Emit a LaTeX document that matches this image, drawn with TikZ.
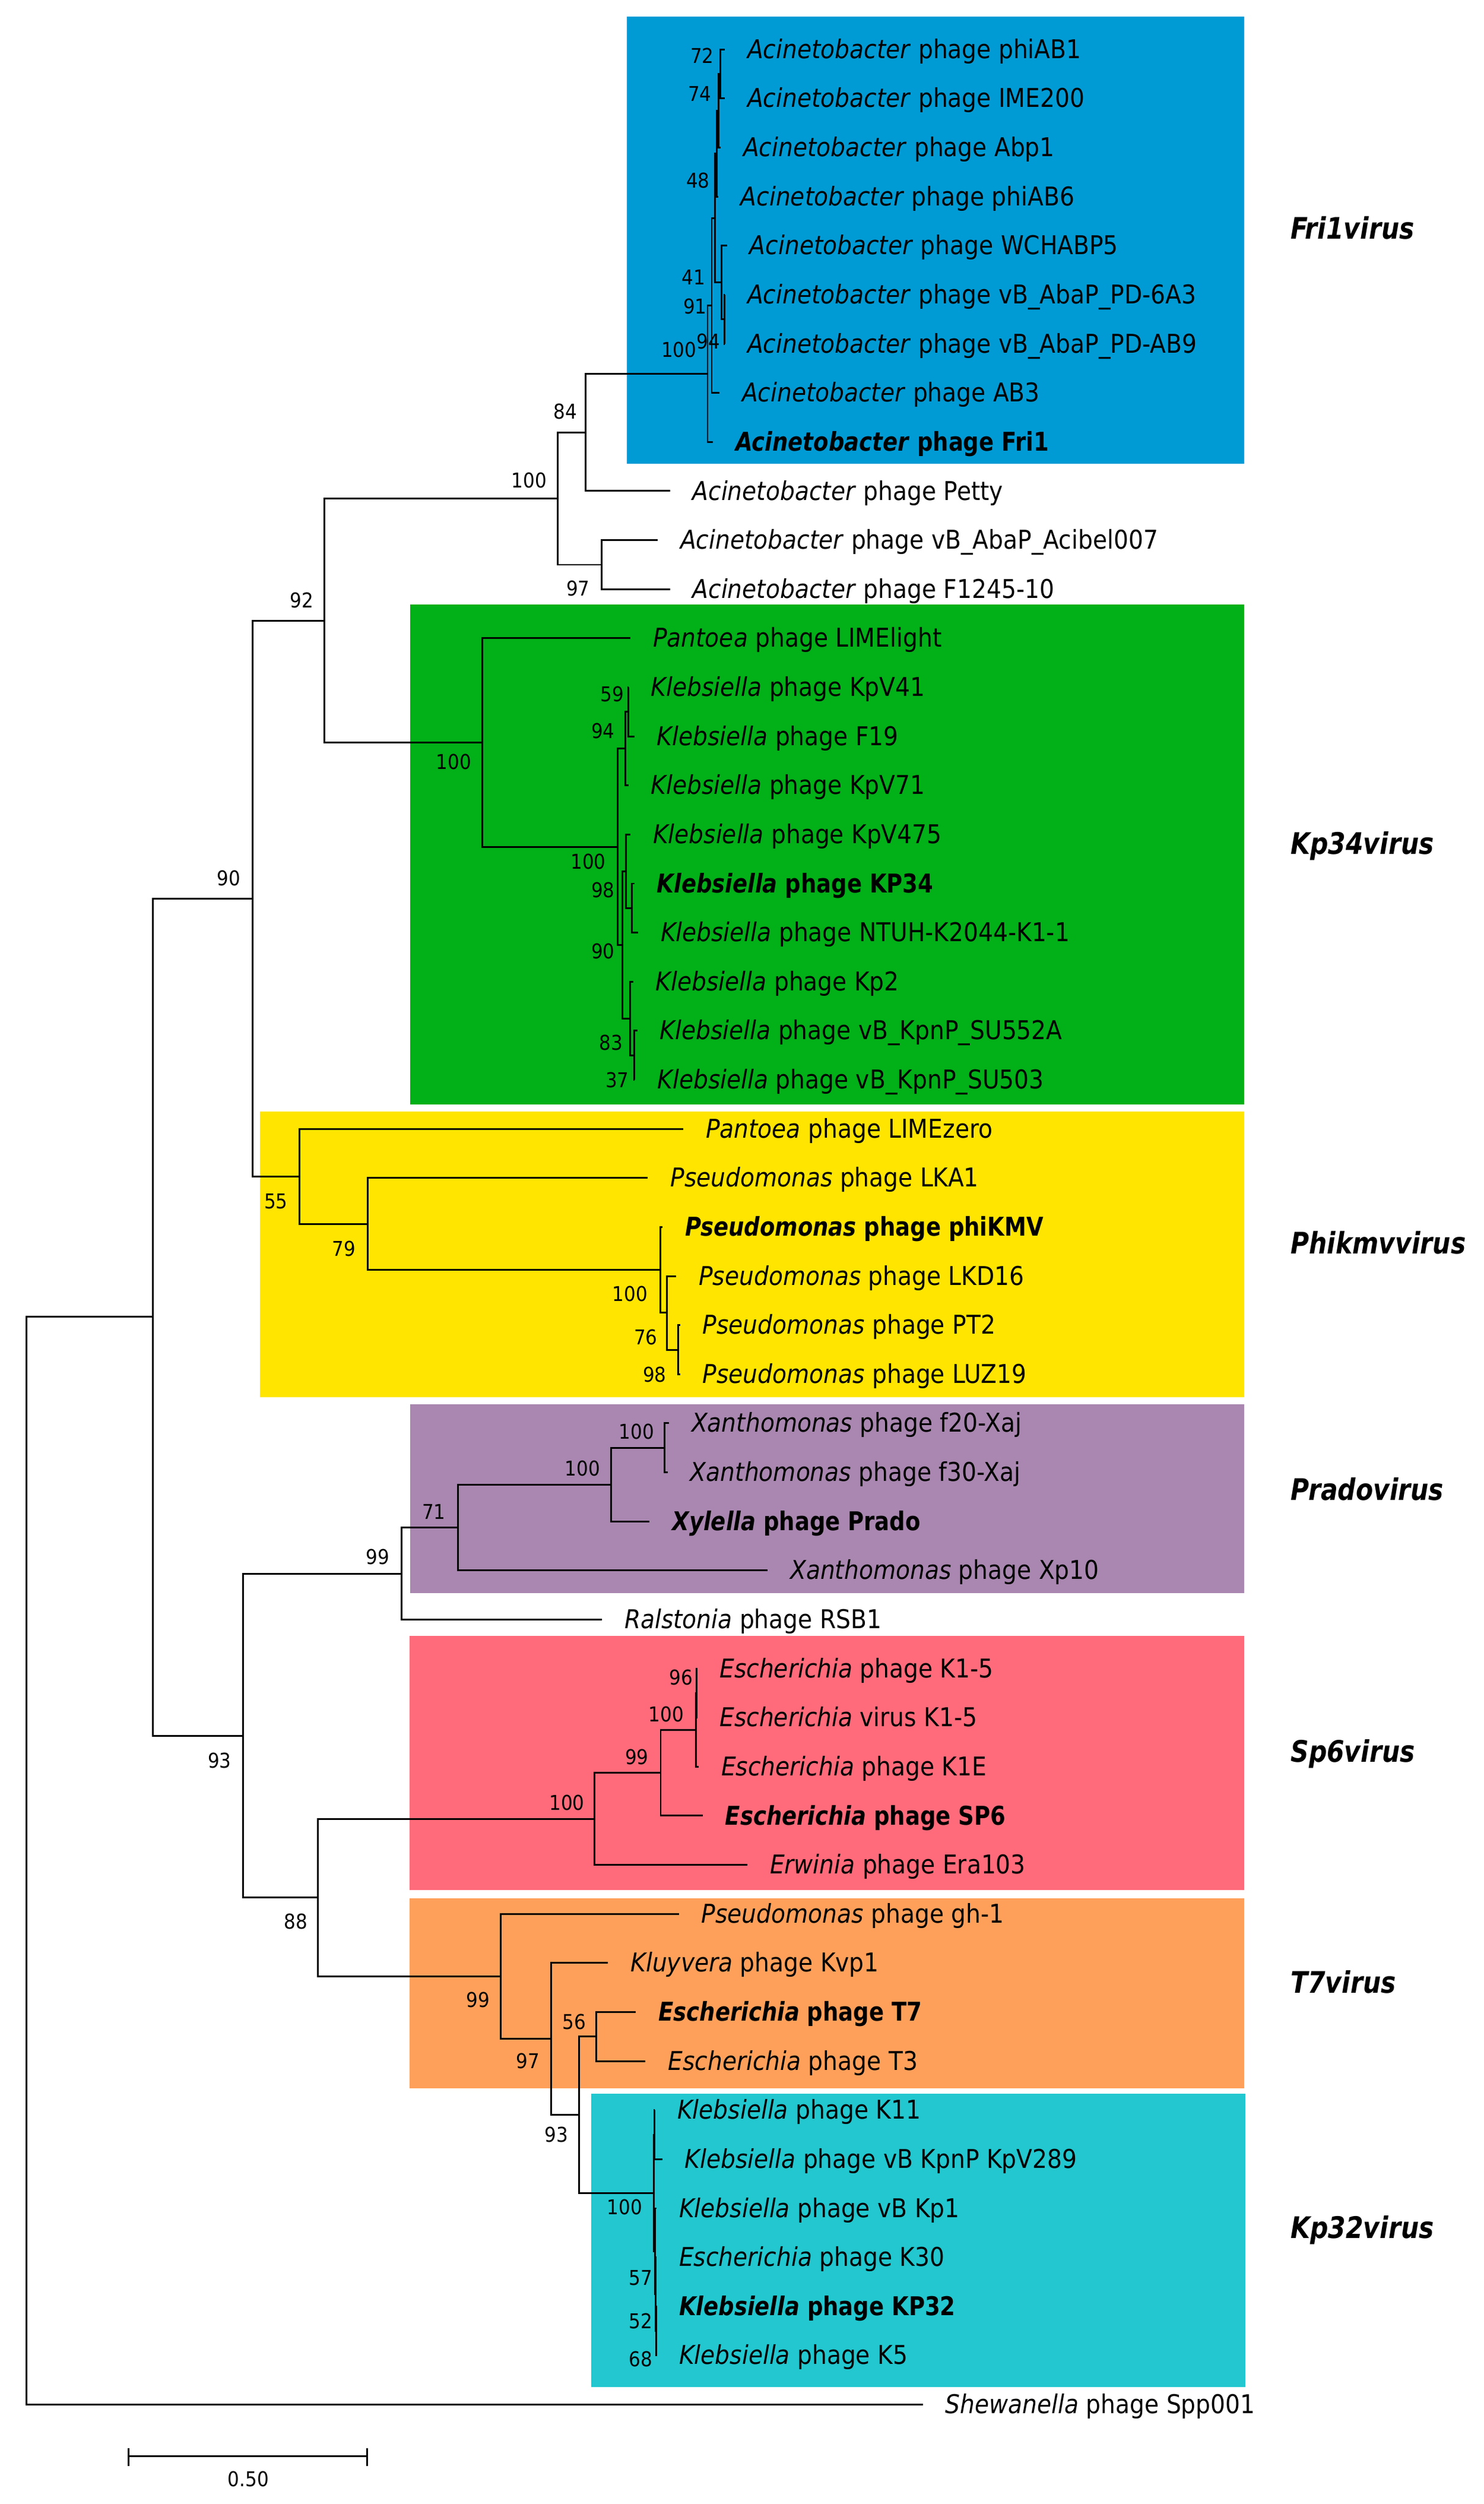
\documentclass[tikz,border=0pt]{standalone}
\usepackage{fontspec}
\setmainfont{DejaVu Sans}[FakeStretch=0.9, ItalicFont={DejaVu Sans Oblique}, BoldFont={DejaVu Sans Bold}, BoldItalicFont={DejaVu Sans Bold Oblique}]
\newfontfamily\bfam{DejaVu Sans}[FakeStretch=0.85, ItalicFont={DejaVu Sans Oblique}, BoldFont={DejaVu Sans Bold}, BoldItalicFont={DejaVu Sans Bold Oblique}]
\definecolor{cblue}{RGB}{0,155,213}
\definecolor{cgreen}{RGB}{2,176,24}
\definecolor{cyellow}{RGB}{255,229,0}
\definecolor{cpurple}{RGB}{169,135,176}
\definecolor{cred}{RGB}{255,107,122}
\definecolor{corange}{RGB}{255,160,90}
\definecolor{ccyan}{RGB}{34,199,207}
\newcommand\tp[5]{\node[tiplab] (#1) at (#2,#3+5.6) {\textit{#4} #5};\coordinate (#1e) at (#2-14,#3);}
\newcommand\tpb[5]{\node[tiplab,font=\bfam\fontsize{16.2}{19}\selectfont\bfseries] (#1) at (#2,#3+5.6) {\textit{#4} #5};\coordinate (#1e) at (#2-14,#3);}
\newcommand\kids[3]{\draw[br] (#2) -| (#1) |- (#3);}
\begin{document}
\begin{tikzpicture}[x=1pt,y=-1pt,
  br/.style={line width=1.1pt},
  tiplab/.style={anchor=base west,inner sep=0pt,font=\fontsize{16.2}{19}\selectfont},
  bs/.style={inner sep=0pt,font=\fontsize{12.8}{15}\selectfont},
  clade/.style={anchor=base west,inner sep=0pt,font=\bfam\fontsize{18.6}{22}\selectfont\bfseries\itshape}]
\useasboundingbox (0,0) rectangle (930,1569.35);
\fill[white] (0,0) rectangle (930,1569.35);
% clade boxes
\fill[cblue] (393.1,10.5) rectangle (780,290.8);
\fill[cgreen] (257,378.8) rectangle (780,692.3);
\fill[cyellow] (163,696.6) rectangle (780,875.6);
\fill[cpurple] (257,880.3) rectangle (780,998.6);
\fill[cred] (256.7,1025.3) rectangle (780,1184.5);
\fill[corange] (256.7,1189.8) rectangle (780,1308.9);
\fill[ccyan] (370.8,1312.2) rectangle (780.6,1496.1);
% tips
\tp{t1}{468.4}{31}{Acinetobacter}{phage phiAB1}
\tp{t2}{468.4}{61.75}{Acinetobacter}{phage IME200}
\tp{t3}{465.8}{92.5}{Acinetobacter}{phage Abp1}
\tp{t4}{464.2}{123.25}{Acinetobacter}{phage phiAB6}
\tp{t5}{469.8}{154}{Acinetobacter}{phage WCHABP5}
\tp{t6}{468.4}{184.75}{Acinetobacter}{phage vB\_AbaP\_PD-6A3}
\tp{t7}{468.4}{215.5}{Acinetobacter}{phage vB\_AbaP\_PD-AB9}
\tp{t8}{465}{246.25}{Acinetobacter}{phage AB3}
\tpb{t9}{461}{277}{Acinetobacter}{phage Fri1}
\tp{t10}{434}{307.75}{Acinetobacter}{phage Petty}
\tp{t11}{426.3}{338.5}{Acinetobacter}{phage vB\_AbaP\_Acibel007}
\tp{t12}{434}{369.25}{Acinetobacter}{phage F1245-10}
\tp{t13}{409.2}{400}{Pantoea}{phage LIMElight}
\tp{t14}{408}{430.75}{Klebsiella}{phage KpV41}
\tp{t15}{411.7}{461.5}{Klebsiella}{phage F19}
\tp{t16}{408}{492.25}{Klebsiella}{phage KpV71}
\tp{t17}{409.2}{523}{Klebsiella}{phage KpV475}
\tpb{t18}{411.7}{553.75}{Klebsiella}{phage KP34}
\tp{t19}{414}{584.5}{Klebsiella}{phage NTUH-K2044-K1-1}
\tp{t20}{411}{615.25}{Klebsiella}{phage Kp2}
\tp{t21}{413.6}{646}{Klebsiella}{phage vB\_KpnP\_SU552A}
\tp{t22}{412}{676.75}{Klebsiella}{phage vB\_KpnP\_SU503}
\tp{t23}{442.3}{707.5}{Pantoea}{phage LIMEzero}
\tp{t24}{420.1}{738.25}{Pseudomonas}{phage LKA1}
\tpb{t25}{429.4}{769}{Pseudomonas}{phage phiKMV}
\tp{t26}{437.9}{799.75}{Pseudomonas}{phage LKD16}
\tp{t27}{440.3}{830.5}{Pseudomonas}{phage PT2}
\tp{t28}{440.3}{861.25}{Pseudomonas}{phage LUZ19}
\tp{t29}{433.4}{892}{Xanthomonas}{phage f20-Xaj}
\tp{t30}{432.6}{922.75}{Xanthomonas}{phage f30-Xaj}
\tpb{t31}{421.3}{953.5}{Xylella}{phage Prado}
\tp{t32}{495.2}{984.25}{Xanthomonas}{phage Xp10}
\tp{t33}{391.3}{1015}{Ralstonia}{phage RSB1}
\tp{t34}{451}{1045.75}{Escherichia}{phage K1-5}
\tp{t35}{451}{1076.5}{Escherichia}{virus K1-5}
\tp{t36}{452}{1107.25}{Escherichia}{phage K1E}
\tpb{t37}{454.5}{1138}{Escherichia}{phage SP6}
\tp{t38}{482.5}{1168.75}{Erwinia}{phage Era103}
\tp{t39}{439.6}{1199.5}{Pseudomonas}{phage gh-1}
\tp{t40}{395.2}{1230.25}{Kluyvera}{phage Kvp1}
\tpb{t41}{412.7}{1261}{Escherichia}{phage T7}
\tp{t42}{418.7}{1291.75}{Escherichia}{phage T3}
\tp{t43}{424.5}{1322.5}{Klebsiella}{phage K11}
\tp{t44}{429.2}{1353.25}{Klebsiella}{phage vB KpnP KpV289}
\tp{t45}{425.6}{1384}{Klebsiella}{phage vB Kp1}
\tp{t46}{425.6}{1414.75}{Escherichia}{phage K30}
\tpb{t47}{425.6}{1445.5}{Klebsiella}{phage KP32}
\tp{t48}{425.6}{1476.25}{Klebsiella}{phage K5}
\tp{t49}{592.6}{1507}{Shewanella}{phage Spp001}
% internal nodes
\coordinate (fa) at (451.6,46.4);
\coordinate (fb) at (450.5,69.4);
\coordinate (fc) at (449.2,96.3);
\coordinate (ff) at (448.2,136.7);
\coordinate (fe) at (454.2,200.1);
\coordinate (fd) at (452.5,177.1);
\coordinate (fg) at (446.2,191.5);
\coordinate (fM) at (443.6,234.2);
\coordinate (L) at (367,271);
\coordinate (N) at (377,353.9);
\coordinate (J) at (349.5,312.4);
\coordinate (Q1) at (393.8,446.1);
\coordinate (Q2) at (392.2,469.2);
\coordinate (T1) at (396,569.1);
\coordinate (T2) at (392.5,546.1);
\coordinate (U1) at (397.5,661.4);
\coordinate (U2) at (395,638.3);
\coordinate (R) at (390.3,592.2);
\coordinate (P) at (387.3,530.7);
\coordinate (K) at (302.3,465.4);
\coordinate (D) at (203.4,388.9);
\coordinate (I) at (425,845.9);
\coordinate (H) at (418,822.8);
\coordinate (G) at (414,795.9);
\coordinate (F) at (230.5,767.1);
\coordinate (E) at (187.6,737.3);
\coordinate (B) at (158.5,563.1);
\coordinate (V1) at (416.5,907.4);
\coordinate (V2) at (383,930.4);
\coordinate (V3) at (287,957.3);
\coordinate (V4) at (251.8,986.2);
\coordinate (Z1) at (436.8,1061.1);
\coordinate (Z2) at (436.2,1084.2);
\coordinate (Y) at (414.2,1111.1);
\coordinate (X) at (372.8,1139.9);
\coordinate (AD) at (373.8,1276.4);
\coordinate (AG) at (410.2,1337.9);
\coordinate (AH1) at (411.5,1460.9);
\coordinate (AH2) at (411.0,1437.8);
\coordinate (AH3) at (410.7,1410.9);
\coordinate (AE) at (409.9,1374.4);
\coordinate (AC) at (362.9,1325.4);
\coordinate (AB) at (345.5,1277.8);
\coordinate (AA) at (314,1238.7);
\coordinate (W) at (199.4,1189.3);
\coordinate (C) at (152.5,1087.8);
\coordinate (A) at (95.7,825.4);
\coordinate (root) at (16.7,1166.2);
% branches
\kids{root}{A}{t49e}
\kids{A}{B}{C}
\kids{B}{D}{E}
\kids{D}{J}{K}
\kids{J}{L}{N}
\kids{L}{fM}{t10e}
\kids{fM}{fg}{t9e}
\kids{fg}{ff}{t8e}
\kids{ff}{fc}{fd}
\kids{fc}{fb}{t4e}
\kids{fb}{fa}{t3e}
\kids{fa}{t1e}{t2e}
\kids{fd}{t5e}{fe}
\kids{fe}{t6e}{t7e}
\kids{N}{t11e}{t12e}
\kids{K}{t13e}{P}
\kids{P}{Q2}{R}
\kids{Q2}{Q1}{t16e}
\kids{Q1}{t14e}{t15e}
\kids{R}{T2}{U2}
\kids{T2}{t17e}{T1}
\kids{T1}{t18e}{t19e}
\kids{U2}{t20e}{U1}
\kids{U1}{t21e}{t22e}
\kids{E}{t23e}{F}
\kids{F}{t24e}{G}
\kids{G}{t25e}{H}
\kids{H}{t26e}{I}
\kids{I}{t27e}{t28e}
\kids{C}{V4}{W}
\kids{V4}{V3}{t33e}
\kids{V3}{V2}{t32e}
\kids{V2}{V1}{t31e}
\kids{V1}{t29e}{t30e}
\kids{W}{X}{AA}
\kids{X}{Y}{t38e}
\kids{Y}{Z2}{t37e}
\kids{Z2}{Z1}{t36e}
\kids{Z1}{t34e}{t35e}
\kids{AA}{t39e}{AB}
\kids{AB}{t40e}{AC}
\kids{AC}{AD}{AE}
\kids{AD}{t41e}{t42e}
\kids{AE}{AG}{AH3}
\kids{AG}{t43e}{t44e}
\kids{AH3}{t45e}{AH2}
\kids{AH2}{t46e}{AH1}
\kids{AH1}{t47e}{t48e}
% bootstrap values
\node[bs] (s1) at (440.2,34.9) {72};
\node[bs] (s2) at (438.7,58.6) {74};
\node[bs] (s3) at (437.6,113) {48};
\node[bs] (s4) at (434.9,173.7) {41};
\node[bs] (s5) at (435.7,191.9) {91};
\node[bs] (s6) at (444.1,213.8) {94};
\node[bs] (s7) at (425.6,219.3) {100};
\node[bs] (s8) at (354.5,258) {84};
\node[bs] (s9) at (331.7,301) {100};
\node[bs] (s10) at (362.4,368.9) {97};
\node[bs] (s11) at (189.2,376.2) {92};
\node[bs] (s12) at (284.5,477.3) {100};
\node[bs] (s13) at (383.8,435) {59};
\node[bs] (s14) at (378.1,458.2) {94};
\node[bs] (s15) at (368.8,540) {100};
\node[bs] (s16) at (378.1,557.7) {98};
\node[bs] (s17) at (378.1,596.1) {90};
\node[bs] (s18) at (383,653.5) {83};
\node[bs] (s19) at (387,677) {37};
\node[bs] (s20) at (143.5,550.5) {90};
\node[bs] (s21) at (173,752.8) {55};
\node[bs] (s22) at (215.5,782.7) {79};
\node[bs] (s23) at (395,811) {100};
\node[bs] (s24) at (404.8,838) {76};
\node[bs] (s25) at (410.4,861.5) {98};
\node[bs] (s26) at (399.1,897.4) {100};
\node[bs] (s27) at (365.2,920.3) {100};
\node[bs] (s28) at (272,947.6) {71};
\node[bs] (s29) at (236.9,975.8) {99};
\node[bs] (s30) at (427.1,1051.4) {96};
\node[bs] (s31) at (417.7,1074.3) {100};
\node[bs] (s32) at (399.2,1101) {99};
\node[bs] (s33) at (355.4,1130) {100};
\node[bs] (s34) at (137.6,1103.3) {93};
\node[bs] (s35) at (185.4,1204.1) {88};
\node[bs] (s36) at (299.6,1253.3) {99};
\node[bs] (s37) at (359.9,1267.2) {56};
\node[bs] (s38) at (330.9,1291.7) {97};
\node[bs] (s39) at (348.8,1337.7) {93};
\node[bs] (s40) at (391.6,1383.2) {100};
\node[bs] (s41) at (401.6,1427.8) {57};
\node[bs] (s42) at (401.6,1454.6) {52};
\node[bs] (s43) at (401.6,1478.4) {68};
% clade names
\node[clade] (c1) at (809,149.8) {Fri1virus};
\node[clade] (c2) at (809,535.3) {Kp34virus};
\node[clade] (c3) at (809,785.6) {Phikmvvirus};
\node[clade] (c4) at (809,940.1) {Pradovirus};
\node[clade] (c5) at (809,1104.3) {Sp6virus};
\node[clade] (c6) at (809,1249.1) {T7virus};
\node[clade] (c7) at (809,1402.8) {Kp32virus};
% scale bar
\coordinate (sb1) at (80.4,1539.4);
\coordinate (sb2) at (230.3,1539.4);
\coordinate (sb1t) at (80.4,1534.3);
\coordinate (sb1b) at (80.4,1545.6);
\coordinate (sb2t) at (230.3,1534.3);
\coordinate (sb2b) at (230.3,1545.6);
\draw[br] (sb1) -- (sb2);
\draw[br] (sb1t) -- (sb1b);
\draw[br] (sb2t) -- (sb2b);
\node[bs] (sbl) at (155.7,1553.8) {0.50};
\end{tikzpicture}
\end{document}
